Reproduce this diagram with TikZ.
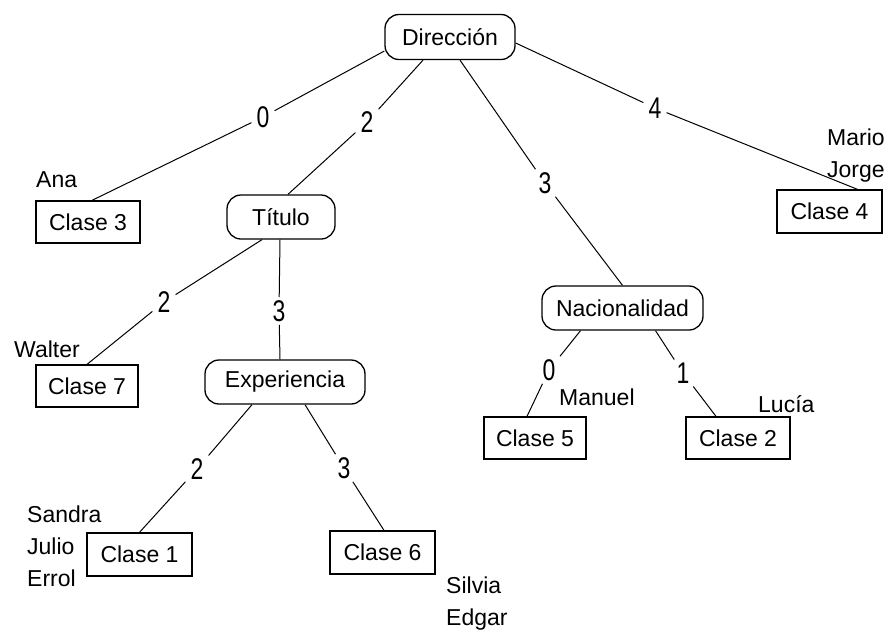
\documentclass[tikz,border=0pt]{standalone}
\usepackage{fontspec}
\setmainfont{Liberation Sans}
\newcommand\tallnum[1]{\scalebox{1}[1.3]{#1}}
\begin{document}
\begin{tikzpicture}[x=1pt,y=-1pt,font=\fontsize{23}{27}\selectfont]
\tikzset{
 cls/.style={draw, line width=1.3pt, minimum width=104pt, minimum height=42pt, inner sep=0pt},
 att/.style={draw, line width=1.3pt, rounded corners=14pt, minimum height=45pt, inner sep=0pt},
 lab/.style={inner xsep=5pt, inner ysep=3pt},
 who/.style={inner sep=0pt, anchor=base west},
 link/.style={line width=1pt}
}
\useasboundingbox (0,0) rectangle (892,633);
% attribute nodes
\node[att, minimum width=130pt] (dir) at (450,37) {Dirección};
\node[att, minimum width=108pt, minimum height=44pt] (tit) at (281,217) {Título};
\node[att, minimum width=160pt, minimum height=44pt] (exp) at (285,382) {Experiencia};
\node[att, minimum width=161pt, minimum height=44pt] (nac) at (622.5,308) {Nacionalidad};
% class nodes
\node[cls] (c3) at (88,222) {Clase 3};
\node[cls, minimum width=102pt] (c7) at (87,386) {Clase 7};
\node[cls, minimum width=105pt, minimum height=43pt] (c1) at (139.5,554.5) {Clase 1};
\node[cls, minimum width=105pt, minimum height=43pt] (c6) at (382.5,552.5) {Clase 6};
\node[cls, minimum width=102pt] (c5) at (535,438) {Clase 5};
\node[cls] (c2) at (738,438) {Clase 2};
\node[cls, minimum width=105pt, minimum height=43pt] (c4) at (829.5,211.5) {Clase 4};
% edge labels
\node[lab] (l0) at (263,117) {\tallnum{0}};
\node[lab] (l2) at (367,122) {\tallnum{2}};
\node[lab] (l3) at (545,183) {\tallnum{3}};
\node[lab] (l4) at (655,108) {\tallnum{4}};
\node[lab] (t2) at (164,302) {\tallnum{2}};
\node[lab] (t3) at (279,311) {\tallnum{3}};
\node[lab] (e2) at (197,469) {\tallnum{2}};
\node[lab] (e3) at (344,468) {\tallnum{3}};
\node[lab] (n0) at (549,370) {\tallnum{0}};
\node[lab] (n1) at (683,373) {\tallnum{1}};
% names
\node[who] (ana) at (36,187) {Ana};
\node[who] (wal) at (14,357) {Walter};
\node[who] (mar) at (827,145) {Mario};
\node[who] (jor) at (827,177) {Jorge};
\node[who] (san) at (27,522) {Sandra};
\node[who] (jul) at (27,554) {Julio};
\node[who] (err) at (27,586) {Errol};
\node[who] (sil) at (446,593) {Silvia};
\node[who] (edg) at (446,625) {Edgar};
\node[who] (man) at (559,405) {Manuel};
\node[who] (luc) at (758,412) {Lucía};
% connectors
\draw[link] ([yshift=-14pt]dir.west) -- (l0) -- ([xshift=4pt]c3.north);
\draw[link] ([xshift=-27pt]dir.south) -- (l2) -- ([xshift=7pt]tit.north);
\draw[link] ([xshift=10pt]dir.south) -- (l3) -- (nac.north);
\draw[link] ([yshift=-6pt]dir.east) -- (l4) -- ([xshift=28pt]c4.north);
\draw[link] ([xshift=-19pt]tit.south) -- (t2) -- (c7.north);
\draw[link] ([xshift=-1pt]tit.south) -- (t3) -- ([xshift=-5pt]exp.north);
\draw[link] ([xshift=-33pt]exp.south) -- (e2) -- (c1.north);
\draw[link] ([xshift=20pt]exp.south) -- (e3) -- ([xshift=1.5pt]c6.north);
\draw[link] ([xshift=-42pt]nac.south) -- (n0) -- ([xshift=-8pt]c5.north);
\draw[link] ([xshift=33pt]nac.south) -- (n1) -- ([xshift=-22pt]c2.north);
\end{tikzpicture}
\end{document}
